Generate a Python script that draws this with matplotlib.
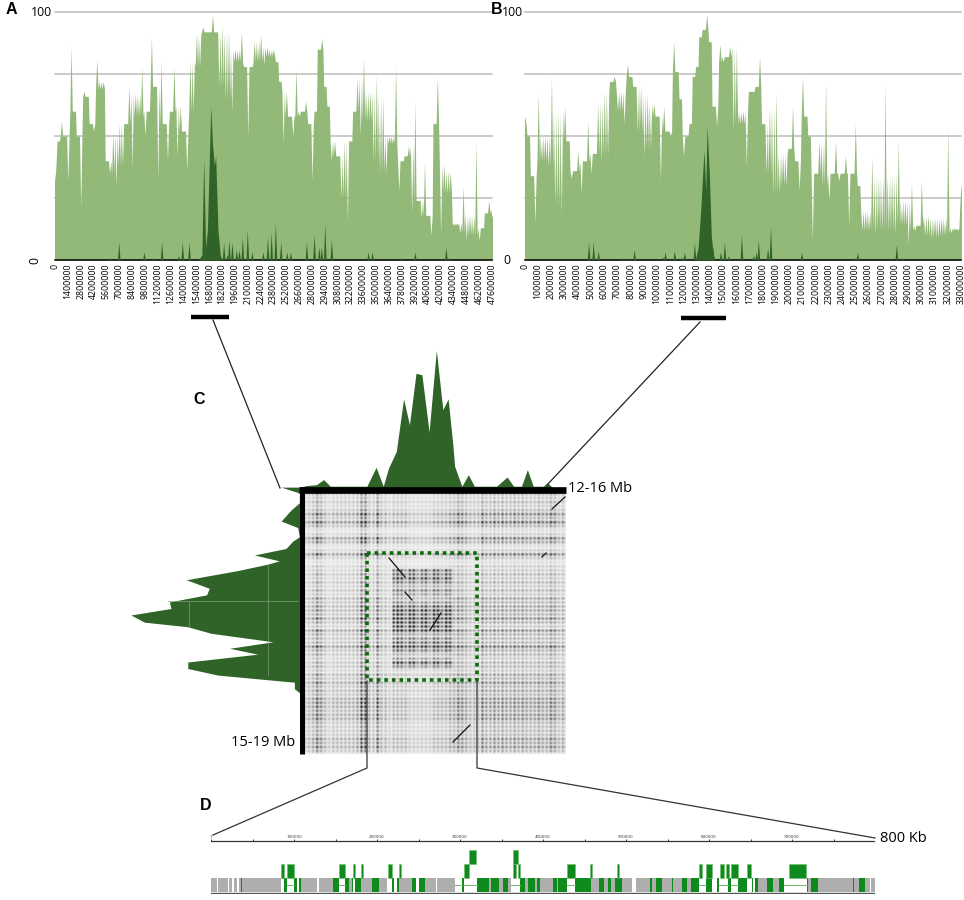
import numpy as np
import matplotlib
matplotlib.use('Agg')
import matplotlib.pyplot as plt

plt.rcParams['font.family'] = ['Open Sans', 'DejaVu Sans']

W, H = 964, 900

LIGHT = '#93b978'
DARK = '#2f6328'
GRID = '#bcbcbc'
BLOCK = '#0f8a1c'

# panel A, identity every 0.35 Mb
a_step = 0.35
a_vals = [32, 48, 56, 50, 32, 86, 60, 50, 21, 68, 66, 55, 52, 81, 69, 72, 40, 35, 51, 30,
          55, 38, 55, 70, 37, 67, 58, 78, 50, 60, 90, 70, 32, 80, 55, 40, 60, 78, 42, 62,
          52, 36, 80, 60, 91, 78, 94, 92, 92, 99, 92, 70, 95, 65, 92, 60, 85, 80, 92, 78,
          50, 78, 88, 80, 91, 79, 86, 82, 85, 80, 72, 47, 68, 58, 50, 77, 58, 60, 64, 55,
          32, 60, 85, 89, 70, 62, 40, 48, 42, 25, 48, 15, 48, 60, 73, 50, 82, 56, 68, 40,
          75, 35, 66, 35, 50, 47, 78, 28, 40, 42, 46, 19, 64, 24, 17, 40, 18, 10, 55, 74,
          10, 39, 27, 36, 14, 15, 11, 30, 8, 18, 10, 48, 8, 13, 19, 24, 17]
a_core_pos = [15.6, 16.0, 16.2, 16.4, 16.6, 16.97, 17.15, 17.35, 17.5, 17.75, 18.0, 18.2]
a_core_val = [0, 2, 41, 5, 12, 62, 47, 38, 42, 12, 2, 0]
a_spike_pos = [6.1, 7.0, 9.74, 10.7, 11.67, 13.5, 13.92, 14.65, 18.42, 18.8, 19.0, 19.33, 19.8, 20.1,
               20.46, 21.0, 21.5, 22.7, 23.2, 23.6, 24.06, 24.64, 25.3, 25.7, 27.44, 28.27, 28.8,
               29.07, 29.44, 30.16, 34.16, 34.6, 37.7, 39.25, 42.63, 43.06]
a_spike_val = [0.7, 7, 3, 0.7, 7, 1.5, 7, 7, 7, 2, 8, 7, 4, 4, 9, 12, 3, 3, 9, 11, 15, 7, 3, 3, 7, 10,
               5, 5, 14.5, 8, 3, 3, 0.7, 3, 5, 0.7]
a_ticks = list(range(0, 47600001, 1400000))

# panel B, identity every 0.25 Mb
b_step = 0.25
b_vals = [58, 50, 34, 15, 67, 40, 50, 38, 74, 22, 60, 18, 62, 48, 33, 36, 44, 27, 40, 56,
          35, 43, 63, 40, 68, 42, 72, 74, 60, 68, 55, 79, 74, 70, 52, 70, 42, 67, 45, 63,
          58, 32, 62, 52, 50, 88, 76, 65, 42, 50, 55, 74, 78, 90, 93, 99, 88, 62, 54, 87,
          80, 82, 86, 52, 86, 55, 60, 38, 68, 68, 70, 82, 55, 35, 62, 26, 68, 27, 43, 30,
          45, 62, 40, 28, 74, 58, 50, 8, 35, 48, 30, 72, 24, 35, 48, 32, 35, 42, 14, 35,
          55, 30, 12, 20, 12, 42, 10, 33, 12, 72, 12, 34, 10, 48, 14, 24, 6, 31, 12, 14,
          32, 10, 18, 9, 17, 9, 17, 10, 53, 11, 13, 12, 31]
b_core_pos = [12.9, 13.1, 13.3, 13.45, 13.55, 13.68, 13.78, 13.95, 14.1, 14.25, 14.4]
b_core_val = [0, 5, 20, 35, 44, 28, 54, 35, 10, 2, 0]
b_spike_pos = [4.85, 5.2, 5.58, 7.48, 7.93, 8.3, 10.5, 10.64, 11.34, 11.9, 12.1, 12.86, 14.25, 14.83,
               15.13, 15.44, 16.42, 17.33, 17.53, 17.7, 18.4, 18.62, 20.97, 24.9, 25.2, 28.15, 28.57]
b_spike_val = [7, 7, 3.5, 0.7, 0.7, 4, 1, 3, 3.5, 1, 3, 7, 5, 3, 7, 1.5, 10, 1.5, 3, 8, 4.5, 13, 3,
               0.7, 3, 6, 0.7]
b_ticks = list(range(0, 33000001, 1000000))

# panel C, side profiles
top_pos = [11.94, 12.02, 12.19, 12.3, 12.4, 12.96, 13.1, 13.21, 13.29, 13.41, 13.42, 13.52, 13.61,
           13.71, 13.8, 13.91, 14.02, 14.12, 14.2, 14.27, 14.3, 14.41, 14.51, 14.6, 14.94, 15.1,
           15.2, 15.32, 15.41, 15.5, 15.65, 15.72, 15.8]
top_val = [0, 0.9, 1.3, 3.3, 0.7, 0.7, 8.1, 0.7, 7.8, 14.4, 16.3, 35, 24.8, 45, 44.4, 22, 54, 30.7,
           35, 17.6, 8.5, 0.7, 5.2, 0.7, 0.7, 4.3, 0.7, 0.7, 7.2, 0.7, 0.7, 2, 0]
left_pos = [14.91, 15.0, 15.15, 15.26, 15.43, 15.53, 15.67, 15.74, 15.85, 15.95, 16.04, 16.09, 16.19,
            16.33, 16.46, 16.56, 16.67, 16.77, 16.87, 16.98, 17.05, 17.15, 17.28, 17.38, 17.47,
            17.59, 17.69, 17.79, 17.9, 18.0, 18.08]
left_val = [7.8, 0.65, 0.65, 3.9, 7.8, 1.3, 0.65, 3.3, 5.9, 18.3, 8.5, 13, 25, 45, 36, 37, 51.6, 51,
            66.7, 61.4, 44.4, 35.3, 11, 28, 17, 44.4, 44.4, 32.7, 2.6, 2.6, 0]

# dot plot darkness, rows and columns read by eye, 0-9
row_dark = [3, 2, 3, 2, 3, 6, 3, 7, 3, 1, 2, 6, 4, 1, 2, 6, 2, 1, 2, 2, 3, 2, 3, 2, 3, 2, 4, 3, 4, 4,
            3, 5, 3, 2, 5, 3, 3, 3, 6, 3, 3, 2, 3, 3, 2, 4, 3, 5, 3, 4, 3, 5, 5, 5, 4, 5, 5, 3, 3, 3,
            3, 5, 4, 5, 3]
col_dark = [3, 3, 4, 7, 5, 3, 2, 3, 3, 3, 3, 3, 3, 4, 8, 8, 3, 3, 7, 3, 3, 2, 3, 3, 3, 3, 2, 2, 2, 2,
            2, 2, 3, 3, 3, 3, 4, 4, 6, 5, 4, 3, 3, 3, 6, 4, 4, 5, 4, 5, 4, 4, 5, 4, 5, 4, 4, 4, 5, 4,
            4, 6, 5, 3, 4]
block_row = [6, 5, 7, 4, 2, 4, 3, 1, 3, 5, 7, 6, 7, 7, 7, 6, 2, 4, 5, 6, 4, 1, 3, 7, 3]
block_col = [5, 7, 6, 3, 7, 7, 3, 6, 7, 3, 7, 6, 3, 7, 5]

# panel D, blocks in kb
row1_green = [(35.7, 37.8), (88, 92), (100, 103.2), (106.4, 108), (146.6, 153.8), (161.8, 166.7),
              (169.5, 171.5), (173.5, 180.7), (193.6, 202.8), (217.7, 220.5), (224.5, 226.9),
              (241.8, 247), (251, 258.2), (302, 304.8), (320.9, 334.5), (337.3, 347), (351.4, 358.2),
              (372.3, 378.3), (382.3, 390.4), (393.2, 396.4), (412.4, 416.5), (418.5, 429.3),
              (438.6, 457.9), (468, 473.5), (478, 482), (486.8, 495.6), (529, 531), (536.2, 543),
              (555, 556.2), (568, 572.9), (578.9, 588), (596.9, 603.7), (609.2, 612.4), (623.3, 626),
              (635.3, 645.4), (651.4, 652.6), (655.4, 659.4), (669.4, 677.5), (684.7, 690.4),
              (717.7, 719.7), (722.7, 730.8), (773.1, 774.7), (780.7, 788)]
row1_white = [(6.8, 8), (20.1, 22.1), (25.7, 28.1), (30.9, 34.1), (83.9, 88), (92, 100), (103.2, 106.4),
              (127.3, 130.5), (153.8, 161.8), (171.5, 173.5), (211.6, 217.7), (220.5, 224.5), (247, 251),
              (271, 272.7), (294, 302), (304.8, 320.9), (362, 372.3), (429.3, 438.6), (506.8, 512),
              (588, 596.9), (603.2, 609.2), (612.5, 623.3), (626, 635.3), (645.4, 651.4), (652.6, 655.4),
              (690.4, 717.7), (794, 795)]
row2_green = [(83.9, 88), (92, 100), (154.2, 161.8), (170.7, 173.5), (180.7, 183.1), (212.8, 218),
              (226.9, 229), (304.8, 311.2), (364.3, 367.5), (369.4, 372.3), (429.3, 438.6), (456.9, 458.9),
              (488.8, 491.2), (588, 592), (596.9, 604), (613.3, 618.5), (620.5, 624), (626.5, 634.5),
              (646, 650.5), (696.4, 717)]
row3_green = [(311.2, 319.3), (364.3, 369.4)]
ruler_ticks = list(range(0, 800001, 50000))
ruler_labels = [100000, 200000, 300000, 400000, 500000, 600000, 700000]

fig = plt.figure(figsize=(W / 100, H / 100), dpi=100)


def px_axes(x0, y0, x1, y1, z=1):
    # y0 is the lower edge in image pixels
    return fig.add_axes([x0 / W, 1 - y0 / H, (x1 - x0) / W, (y0 - y1) / H], zorder=z)


def spikes(ax, pos, val, w=0.14):
    for p, v in zip(pos, val):
        ax.fill([p - w, p, p + w], [0, v, 0], color=DARK, lw=0, zorder=3)


def spiky_outline(vals, step):
    # each reading becomes a thin tooth or notch off the local running level
    vals = np.array(vals, float)
    level = np.array([np.median(vals[max(0, i - 1):i + 2]) for i in range(len(vals))])
    d = step * 0.38
    xs, ys = [], []
    for i, v in enumerate(vals):
        xs += [i * step - d, i * step, i * step + d]
        ys += [level[i], v, level[i]]
    return np.array(xs), np.array(ys)


def panel(x0, x1, vals, step, core_pos, core_val, sp_pos, sp_val, ticks, w):
    ax = px_axes(x0, 260, x1, 12)
    for g in [25, 50, 75, 100]:
        ax.axhline(g, color=GRID, lw=1.1, zorder=0, clip_on=False)
    xs, ys = spiky_outline(vals, step)
    ax.fill_between(xs, ys, color=LIGHT, lw=0, zorder=2)
    ax.fill_between(core_pos, core_val, color=DARK, lw=0, zorder=3)
    spikes(ax, sp_pos, sp_val, w)
    ax.set_xlim(0, (len(vals) - 1) * step)
    ax.set_ylim(0, 100)
    for s in ['top', 'left', 'right']:
        ax.spines[s].set_visible(False)
    ax.spines['bottom'].set_linewidth(1.1)
    ax.set_yticks([])
    ax.set_xticks([t / 1e6 for t in ticks])
    ax.set_xticklabels([str(t) for t in ticks], rotation=90, fontsize=6.3)
    ax.tick_params(axis='x', length=0, pad=2.5)
    return ax


panel(55, 492, a_vals, a_step, a_core_pos, a_core_val, a_spike_pos, a_spike_val, a_ticks, 0.14)
panel(525, 961, b_vals, b_step, b_core_pos, b_core_val, b_spike_pos, b_spike_val, b_ticks, 0.1)

# dot plot, each 4 px cell split in 2x2 so the dots sit on a lattice
rd = np.array(row_dark, float)
cd = np.array(col_dark, float)
dots = 0.95 * np.outer(rd, cd) / 81
dots[19:44, 22:37] += 0.7 * np.outer(block_row, block_col) / 81
fine = np.kron(dots, [[2.0, 0.5], [0.5, 0.1]])
img = np.clip(0.95 - fine, 0.03, 1)
ax = px_axes(304, 754, 566, 493, z=2)
ax.imshow(img, cmap='gray', vmin=0, vmax=1, aspect='auto', interpolation='bilinear',
          extent=[12, 16, 19, 15])
ax.axis('off')

# density along the top, 2.55 px per unit
ax = px_axes(304, 488, 566, 340, z=1)
ax.fill_between(top_pos, top_val, color=DARK, lw=0, clip_on=False)
ax.set_xlim(12, 16)
ax.set_ylim(0, 148 / 2.55)
ax.axis('off')

# density down the left side
ax = px_axes(120, 754, 301, 493, z=1)
ax.fill_betweenx(left_pos, left_val, color=DARK, lw=0, clip_on=False)
ax.set_xlim(181 / 2.55, 0)
ax.set_ylim(19, 15)
ax.axis('off')

# panel D
ax = px_axes(211, 894, 875, 830, z=2)
ax.set_xlim(0, 800)
ax.set_ylim(-2 / 14, 62 / 14)
ax.axis('off')
ax.broken_barh([(0, 800)], (0, 1), color='#aeaeae', lw=0)
ax.broken_barh([(a, b - a) for a, b in row1_white], (0, 1), color='white', lw=0)
for a, b in row1_white:
    if b - a > 7:
        ax.plot([a, b], [0.5, 0.5], color='#6cbf6c', lw=0.7)
ax.broken_barh([(a, b - a) for a, b in row1_green], (0, 1), color=BLOCK, lw=0)
ax.broken_barh([(a, b - a) for a, b in row2_green], (1, 1), facecolor=BLOCK, edgecolor='#6cbf6c', lw=0.4)
ax.broken_barh([(a, b - a) for a, b in row3_green], (2, 1), facecolor=BLOCK, edgecolor='#6cbf6c', lw=0.4)
ax.plot([0, 800], [-0.04, -0.04], color='#555555', lw=1.0)
ax.plot([0, 800], [51 / 14, 51 / 14], color='#333333', lw=0.9)
ax.vlines([t / 1000 for t in ruler_ticks], 51 / 14, 53 / 14, color='#333333', lw=0.7)
for t in ruler_labels:
    ax.text(t / 1000, 54.5 / 14, str(t), fontsize=3.2, ha='center', va='center', color='#333333')
ax.text(0, 54.5 / 14, '1', fontsize=3.2, ha='center', va='center', color='#333333')

# overlay in image pixels: connectors, bars, labels
ov = fig.add_axes([0, 0, 1, 1], zorder=5)
ov.set_xlim(0, W)
ov.set_ylim(H, 0)
ov.axis('off')
ov.patch.set_alpha(0)

ov.plot([191, 229], [317, 317], color='black', lw=3.2, solid_capstyle='butt')
ov.plot([681, 726], [318, 318], color='black', lw=3.2, solid_capstyle='butt')
ov.plot([213, 280], [320, 488], color='#222222', lw=0.9)
ov.plot([700, 547], [322, 485], color='#222222', lw=0.9)
ov.plot([299, 566], [489.5, 489.5], color='black', lw=4.8, solid_capstyle='butt')
ov.plot([301.5, 301.5], [487, 754], color='black', lw=3.6, solid_capstyle='butt')

# faint lines across the left density
ov.plot([168, 298], [601, 601], color='#7f9f78', lw=0.5)
ov.plot([189, 189], [602, 626], color='#7f9f78', lw=0.5)
ov.plot([268, 268], [564, 675], color='#7f9f78', lw=0.5)

# marked diagonals in the dot plot
for xs, ys in [([389, 405], [558, 577]), ([405, 412], [592, 600]), ([441, 430], [613, 630]),
               ([470, 453], [725, 742]), ([565, 552], [497, 509]), ([546, 542], [553, 557])]:
    ov.plot(xs, ys, color='#111111', lw=0.9)

ov.plot([367, 477, 477, 367, 367], [553, 553, 680, 680, 553], color='#0b6b0b', lw=2.6,
        linestyle=(0, (1, 1.1)))
ov.plot([367, 367, 213], [681, 768, 835], color='#333333', lw=0.9)
ov.plot([477, 477, 875], [681, 768, 838], color='#333333', lw=0.9)

for s, x, y in [('A', 11, 10), ('B', 496.5, 10), ('C', 199, 400), ('D', 206, 806)]:
    ov.text(x, y, s, fontsize=11.5, fontweight='bold', family='Liberation Sans', ha='center', va='center')
ov.text(52, 13, '100', fontsize=8.8, ha='right', va='center')
ov.text(35, 260, '0', fontsize=8.8, rotation=90, ha='center', va='center')
ov.text(523, 13, '100', fontsize=8.8, ha='right', va='center')
ov.text(507, 260, '0', fontsize=8.8, ha='center', va='center')
ov.text(568, 489, '12-16 Mb', fontsize=10.5, ha='left', va='center')
ov.text(295, 743, '15-19 Mb', fontsize=10.5, ha='right', va='center')
ov.text(880, 839, '800 Kb', fontsize=10.5, ha='left', va='center')

fig.savefig('out.png', dpi=100)
